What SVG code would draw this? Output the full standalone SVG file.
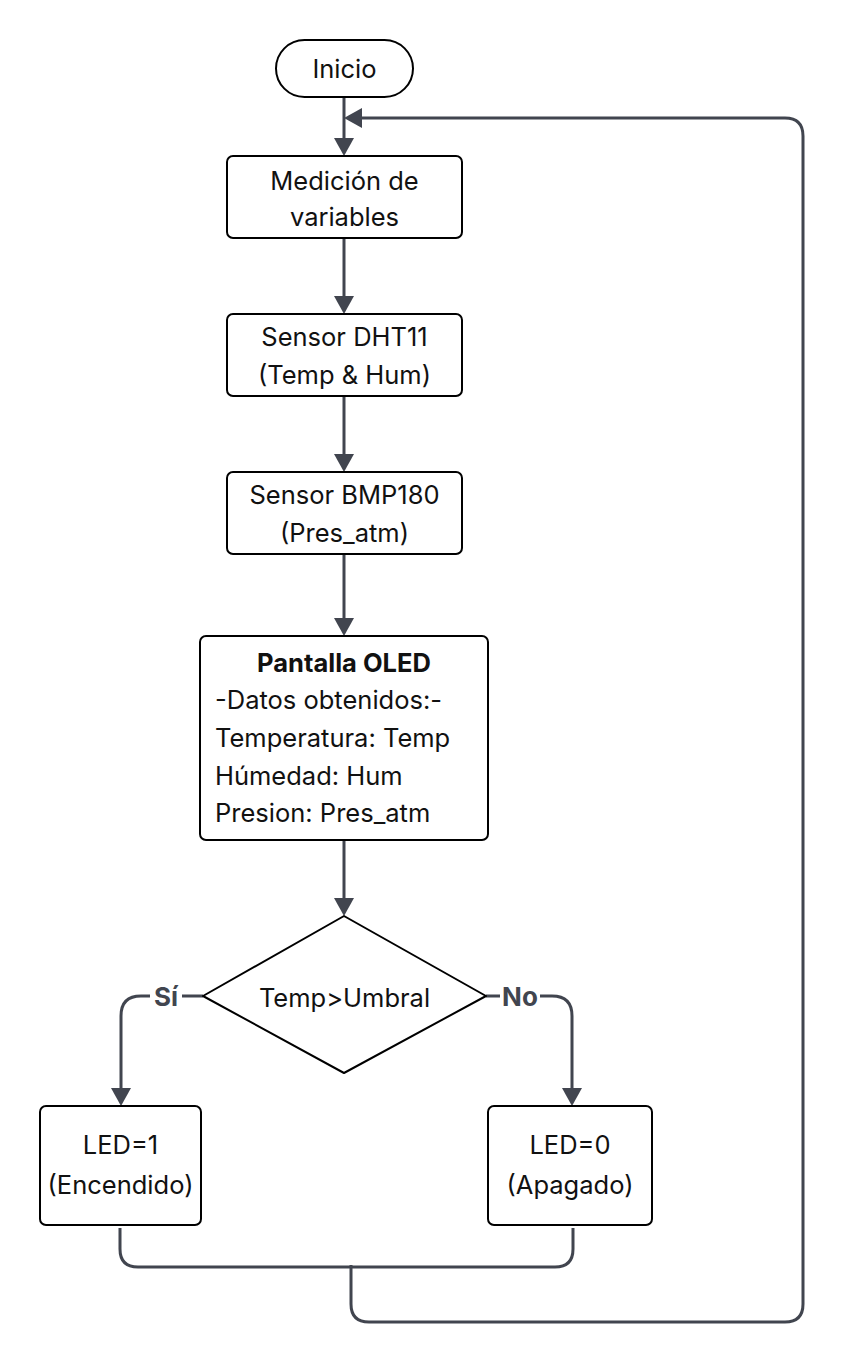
<svg xmlns="http://www.w3.org/2000/svg" width="845" height="1364" viewBox="0 0 845 1364">
<style>
.n{fill:#fff;stroke:#000;stroke-width:2}
.t{font-family:Inter,"Liberation Sans",sans-serif;font-size:25.5px;fill:#111}
.c{fill:none;stroke:#41454f;stroke-width:3;stroke-linejoin:round}
.l{font-family:Inter,"Liberation Sans",sans-serif;font-size:26px;font-weight:bold;fill:#41454f}
</style>
<g id="connectors">
<path class="c" d="M344,97 V138" />
<path d="M334,138 L354,138 L344,156 Z" fill="#41454f"/>
<path class="c" d="M344,238 V296"/>
<path d="M334,296 L354,296 L344,314 Z" fill="#41454f"/>
<path class="c" d="M344,396 V454"/>
<path d="M334,454 L354,454 L344,472 Z" fill="#41454f"/>
<path class="c" d="M344,554 V618"/>
<path d="M334,618 L354,618 L344,636 Z" fill="#41454f"/>
<path class="c" d="M344,840 V898"/>
<path d="M334,898 L354,898 L344,916 Z" fill="#41454f"/>
<path class="c" d="M203,996 H141 Q121,996 121,1016 V1088"/>
<path d="M111,1088 L131,1088 L121,1106 Z" fill="#41454f"/>
<path class="c" d="M486,996 H552 Q572,996 572,1016 V1088"/>
<path d="M562,1088 L582,1088 L572,1106 Z" fill="#41454f"/>
<path class="c" d="M120,1228 V1249 Q120,1267 138,1267 H555 Q573,1267 573,1249 V1228"/>
<path class="c" d="M351,1265 V1304 Q351,1322 369,1322 H785 Q803,1322 803,1304 V136 Q803,118 785,118 H362"/>
<path d="M362,108 L362,128 L344,118 Z" fill="#41454f"/>
<rect x="150" y="982" width="32" height="30" fill="#fff"/>
<text class="l" x="166" y="1006" text-anchor="middle">Sí</text>
<rect x="500" y="982" width="40" height="30" fill="#fff"/>
<text class="l" x="520" y="1006" text-anchor="middle">No</text>
</g>
<g id="inicio">
<rect class="n" x="276" y="40" width="137" height="57" rx="28.5"/>
<text class="t" x="344.5" y="78" text-anchor="middle">Inicio</text>
</g>
<g id="medicion">
<rect class="n" x="227" y="156" width="235" height="82" rx="6"/>
<text class="t" x="344.5" y="190" text-anchor="middle">Medición de</text>
<text class="t" x="344.5" y="226" text-anchor="middle">variables</text>
</g>
<g id="dht11">
<rect class="n" x="227" y="314" width="235" height="82" rx="6"/>
<text class="t" x="344.5" y="346" text-anchor="middle">Sensor DHT11</text>
<text class="t" x="344.5" y="384" text-anchor="middle">(Temp &amp; Hum)</text>
</g>
<g id="bmp180">
<rect class="n" x="227" y="472" width="235" height="82" rx="6"/>
<text class="t" x="344.5" y="504" text-anchor="middle">Sensor BMP180</text>
<text class="t" x="344.5" y="542" text-anchor="middle">(Pres_atm)</text>
</g>
<g id="oled">
<rect class="n" x="200" y="636" width="288" height="204" rx="6"/>
<text class="t" x="344" y="672" text-anchor="middle" font-weight="bold">Pantalla OLED</text>
<text class="t" x="215" y="709">-Datos obtenidos:-</text>
<text class="t" x="215" y="747">Temperatura: Temp</text>
<text class="t" x="215" y="785">Húmedad: Hum</text>
<text class="t" x="215" y="822">Presion: Pres_atm</text>
</g>
<g id="decision">
<path class="n" d="M344,916 L486,996 L344,1073 L203,996 Z" stroke-linejoin="round"/>
<text class="t" x="344.5" y="1007" text-anchor="middle">Temp&gt;Umbral</text>
</g>
<g id="led1">
<rect class="n" x="40" y="1106" width="161" height="119" rx="6"/>
<text class="t" x="120.5" y="1154" text-anchor="middle">LED=1</text>
<text class="t" x="120.5" y="1194" text-anchor="middle">(Encendido)</text>
</g>
<g id="led0">
<rect class="n" x="488" y="1106" width="164" height="119" rx="6"/>
<text class="t" x="570" y="1154" text-anchor="middle">LED=0</text>
<text class="t" x="570" y="1194" text-anchor="middle">(Apagado)</text>
</g>
</svg>
